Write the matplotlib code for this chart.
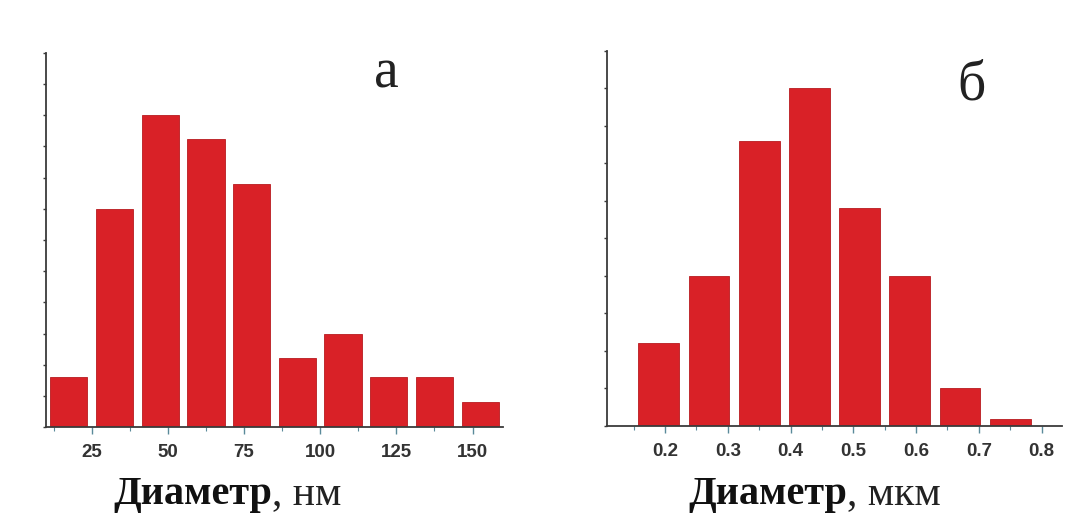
import matplotlib
matplotlib.use("Agg")
import matplotlib.pyplot as plt
from matplotlib.ticker import MultipleLocator, NullFormatter

# гистограммы диаметров частиц: (а) нм, (б) мкм
centers_a = [17.5, 32.5, 47.5, 62.5, 77.5, 92.5, 107.5, 122.5, 137.5, 152.5]
counts_a = [1.62, 7.0, 10.0, 9.22, 7.79, 2.21, 3.0, 1.62, 1.62, 0.82]
ticks_a = [25, 50, 75, 100, 125, 150]

centers_b = [0.19, 0.27, 0.35, 0.43, 0.51, 0.59, 0.67, 0.75]
counts_b = [2.2, 4.0, 7.6, 9.0, 5.8, 4.0, 1.0, 0.2]
ticks_b = [0.2, 0.3, 0.4, 0.5, 0.6, 0.7, 0.8]

bar_col = '#d92127'
axis_col = '#3a3a3a'

fig = plt.figure(figsize=(10.88, 5.15), dpi=100)
ax1 = fig.add_axes([0.0423, 0.1703, 0.420, 0.7274])
ax2 = fig.add_axes([0.5576, 0.1728, 0.4182, 0.7287])


def style(ax):
    for s in ['top', 'right']:
        ax.spines[s].set_visible(False)
    for s in ['left', 'bottom']:
        ax.spines[s].set_color(axis_col)
        ax.spines[s].set_linewidth(1.3)
    ax.tick_params(axis='x', which='major', direction='out', length=5, width=1,
                   color='#5a8a9a', pad=7, labelsize=13.5, labelcolor='#333333')
    ax.tick_params(axis='x', which='minor', direction='out', length=3, width=0.8,
                   color='#5a8a9a')
    ax.tick_params(axis='y', which='major', direction='out', length=2.5, width=1,
                   color=axis_col)
    ax.yaxis.set_major_formatter(NullFormatter())
    for lab in ax.get_xticklabels():
        lab.set_fontfamily('Liberation Sans')
        lab.set_fontweight('bold')


ax1.bar(centers_a, counts_a, width=12.2, color=bar_col, edgecolor='#b81a1f', linewidth=0.6)
ax1.set_xlim(10, 160)
ax1.set_ylim(0, 12)
ax1.set_xticks(ticks_a)
ax1.set_xticklabels([str(t) for t in ticks_a])
ax1.xaxis.set_minor_locator(MultipleLocator(12.5))
ax1.set_yticks(range(0, 13))
style(ax1)

ax2.bar(centers_b, counts_b, width=0.065, color=bar_col, edgecolor='#b81a1f', linewidth=0.6)
ax2.set_xlim(0.107, 0.832)
ax2.set_ylim(0, 10)
ax2.set_xticks(ticks_b)
ax2.set_xticklabels(['%.1f' % t for t in ticks_b])
ax2.xaxis.set_minor_locator(MultipleLocator(0.05))
ax2.set_yticks(range(0, 11))
style(ax2)

# буквы панелей
fig.text(386.7 / 1088, 1 - 88 / 515, 'а', fontsize=40, family='Liberation Serif',
         ha='center', va='baseline', color='#222222')
fig.text(971.7 / 1088, 1 - 100 / 515, 'б', fontsize=40, family='Liberation Serif',
         ha='center', va='baseline', color='#222222')

# подписи осей: жирное слово + обычные единицы
fig.canvas.draw()
r = fig.canvas.get_renderer()
for x0, unit in [(113, ', нм'), (688, ', мкм')]:
    t1 = fig.text(x0 / 1088, 1 - 504 / 515, 'Диаметр', fontsize=29, family='Liberation Serif',
                  fontweight='bold', ha='left', va='baseline', color='#111111')
    w = t1.get_window_extent(r).width
    fig.text((x0 + w) / 1088, 1 - 504 / 515, unit, fontsize=30, family='Liberation Serif',
             ha='left', va='baseline', color='#222222')

fig.savefig('out.png', dpi=100, facecolor='white')
